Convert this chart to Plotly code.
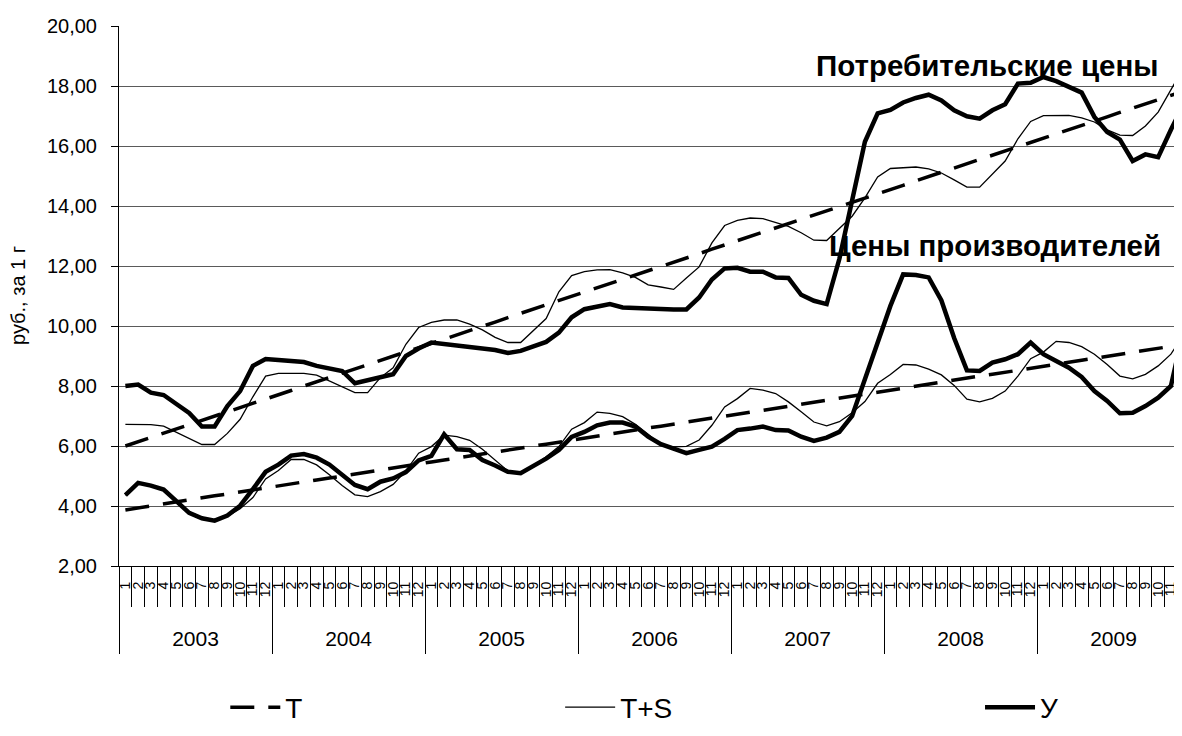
import plotly.graph_objects as go

# monthly series, 2003-2009
years = ["2003", "2004", "2005", "2006", "2007", "2008", "2009"]
month_names = ["1", "2", "3", "4", "5", "6", "7", "8", "9", "10", "11", "12"]

# consumer prices
cons_T = [6.00, 6.14, 6.29, 6.43, 6.57, 6.71, 6.86, 7.00, 7.14, 7.28, 7.43, 7.57,
          7.71, 7.85, 8.00, 8.14, 8.28, 8.42, 8.57, 8.71, 8.85, 8.99, 9.14, 9.28,
          9.42, 9.56, 9.71, 9.85, 9.99, 10.13, 10.28, 10.42, 10.56, 10.70, 10.85, 10.99,
          11.13, 11.27, 11.42, 11.56, 11.70, 11.84, 11.99, 12.13, 12.27, 12.41, 12.56, 12.70,
          12.84, 12.98, 13.13, 13.27, 13.41, 13.55, 13.70, 13.84, 13.98, 14.12, 14.27, 14.41,
          14.55, 14.69, 14.84, 14.98, 15.12, 15.26, 15.41, 15.55, 15.69, 15.83, 15.98, 16.12,
          16.26, 16.40, 16.55, 16.69, 16.83, 16.97, 17.12, 17.26, 17.40, 17.54, 17.69, 17.83]
cons_TS = [6.72, 6.72, 6.71, 6.66, 6.46, 6.24, 6.05, 6.05, 6.42, 6.89, 7.64, 8.33,
           8.42, 8.42, 8.42, 8.36, 8.17, 7.98, 7.78, 7.78, 8.28, 8.61, 9.39, 9.95,
           10.12, 10.20, 10.20, 10.06, 9.87, 9.62, 9.45, 9.45, 9.84, 10.25, 11.14, 11.68,
           11.81, 11.87, 11.88, 11.77, 11.62, 11.37, 11.30, 11.22, 11.60, 11.97, 12.77, 13.35,
           13.52, 13.60, 13.58, 13.46, 13.32, 13.11, 12.86, 12.85, 13.27, 13.66, 14.27, 14.97,
           15.25, 15.27, 15.30, 15.24, 15.10, 14.87, 14.63, 14.63, 15.05, 15.50, 16.24, 16.82,
           17.01, 17.02, 17.02, 16.94, 16.80, 16.54, 16.36, 16.35, 16.67, 17.13, 17.86, 18.62]
cons_Y = [8.00, 8.05, 7.78, 7.70, 7.40, 7.10, 6.65, 6.65, 7.33, 7.83, 8.67, 8.90,
          8.87, 8.84, 8.80, 8.67, 8.58, 8.50, 8.09, 8.20, 8.28, 8.39, 9.00, 9.25,
          9.45, 9.40, 9.35, 9.30, 9.25, 9.20, 9.10, 9.17, 9.32, 9.47, 9.78, 10.29,
          10.56, 10.64, 10.73, 10.62, 10.60, 10.56, 10.55, 10.55, 10.55, 10.95, 11.55, 11.92,
          11.94, 11.81, 11.81, 11.62, 11.60, 11.04, 10.84, 10.73, 12.24, 14.24, 16.14, 17.09,
          17.20, 17.45, 17.60, 17.71, 17.52, 17.19, 16.99, 16.91, 17.19, 17.39, 18.08, 18.11,
          18.30, 18.16, 17.97, 17.78, 16.97, 16.47, 16.21, 15.50, 15.72, 15.63, 16.54, 17.40]

# producer prices
prod_T = [3.87, 3.94, 4.00, 4.07, 4.14, 4.20, 4.27, 4.34, 4.40, 4.47, 4.54, 4.60,
          4.67, 4.73, 4.80, 4.87, 4.93, 5.00, 5.07, 5.13, 5.20, 5.27, 5.33, 5.40,
          5.47, 5.53, 5.60, 5.67, 5.73, 5.80, 5.87, 5.93, 6.00, 6.06, 6.13, 6.20,
          6.26, 6.33, 6.40, 6.46, 6.53, 6.60, 6.66, 6.73, 6.80, 6.86, 6.93, 7.00,
          7.06, 7.13, 7.19, 7.26, 7.33, 7.39, 7.46, 7.53, 7.59, 7.66, 7.73, 7.79,
          7.86, 7.93, 7.99, 8.06, 8.13, 8.19, 8.26, 8.33, 8.39, 8.46, 8.52, 8.59,
          8.66, 8.72, 8.79, 8.86, 8.92, 8.99, 9.06, 9.12, 9.19, 9.26, 9.32, 9.39]
prod_TS = [4.36, 4.79, 4.68, 4.51, 4.14, 3.75, 3.56, 3.50, 3.65, 3.91, 4.28, 4.90,
           5.18, 5.55, 5.55, 5.37, 5.04, 4.68, 4.37, 4.31, 4.48, 4.72, 5.17, 5.76,
           5.98, 6.36, 6.31, 6.19, 5.89, 5.53, 5.17, 5.09, 5.35, 5.64, 5.98, 6.56,
           6.78, 7.13, 7.09, 6.98, 6.72, 6.39, 6.04, 5.97, 5.99, 6.20, 6.69, 7.30,
           7.58, 7.92, 7.86, 7.75, 7.47, 7.14, 6.80, 6.67, 6.81, 7.11, 7.48, 8.09,
           8.38, 8.72, 8.70, 8.56, 8.37, 8.02, 7.56, 7.47, 7.59, 7.83, 8.33, 8.91,
           9.13, 9.49, 9.45, 9.31, 9.06, 8.72, 8.33, 8.24, 8.39, 8.67, 9.06, 9.72]
prod_Y = [4.36, 4.77, 4.68, 4.55, 4.16, 3.77, 3.59, 3.51, 3.68, 4.01, 4.56, 5.14,
          5.38, 5.68, 5.73, 5.61, 5.38, 5.06, 4.70, 4.56, 4.81, 4.92, 5.13, 5.52,
          5.67, 6.39, 5.89, 5.87, 5.53, 5.35, 5.14, 5.09, 5.33, 5.58, 5.87, 6.30,
          6.47, 6.69, 6.78, 6.78, 6.65, 6.31, 6.06, 5.89, 5.76, 5.87, 5.98, 6.24,
          6.53, 6.58, 6.65, 6.53, 6.52, 6.31, 6.17, 6.28, 6.47, 7.00, 8.25, 9.45,
          10.67, 11.72, 11.70, 11.62, 10.85, 9.60, 8.52, 8.50, 8.78, 8.89, 9.06, 9.45,
          9.06, 8.83, 8.61, 8.30, 7.83, 7.50, 7.09, 7.11, 7.33, 7.61, 8.00, 9.90]

FONT = "Liberation Sans, Arial, sans-serif"
n = len(cons_Y)
x = list(range(n))
month_bounds = [i - 0.5 for i in range(n + 1)]
year_bounds = [12 * k - 0.5 for k in range(len(years) + 1)]
year_centers = [12 * k + 5.5 for k in range(len(years))]
month_ticks = month_names * len(years)
# the last months run past the right edge of the picture
xrange_ = [-0.5, 82.87]

fig = go.Figure()

dash_style = dict(color="black", width=3.5, dash="24px,14px")
thin_style = dict(color="black", width=1.3)
thick_style = dict(color="black", width=4.5)

fig.add_trace(go.Scatter(x=x, y=cons_T, mode="lines", name="T", line=dash_style,
                         legend="legend"))
fig.add_trace(go.Scatter(x=x, y=prod_T, mode="lines", name="T", line=dash_style,
                         showlegend=False))
fig.add_trace(go.Scatter(x=x, y=cons_TS, mode="lines", name="T+S", line=thin_style,
                         legend="legend2"))
fig.add_trace(go.Scatter(x=x, y=prod_TS, mode="lines", name="T+S", line=thin_style,
                         legend="legend2", showlegend=False))
fig.add_trace(go.Scatter(x=x, y=cons_Y, mode="lines", name="У", line=thick_style,
                         legend="legend3"))
fig.add_trace(go.Scatter(x=x, y=prod_Y, mode="lines", name="У", line=thick_style,
                         legend="legend3", showlegend=False))

# empty helper traces so the month / year label axes get drawn
for ax in ("x2", "x3"):
    fig.add_trace(go.Scatter(x=[x[0], x[-1]], y=[None, None], xaxis=ax, yaxis="y",
                             mode="lines", showlegend=False, hoverinfo="skip"))

fig.add_annotation(x=67.6, y=18.7, xref="x", yref="y", showarrow=False,
                   text="<b>Потребительские цены</b>",
                   font=dict(size=29.5, family=FONT, color="black"))
fig.add_annotation(x=68.2, y=12.68, xref="x", yref="y", showarrow=False,
                   text="<b>Цены производителей</b>",
                   font=dict(size=29.5, family=FONT, color="black"))
fig.add_annotation(x=-0.095, y=0.5, xref="paper", yref="paper", showarrow=False,
                   xanchor="center", yanchor="middle",
                   text="руб., за 1 г", textangle=-90,
                   font=dict(size=20, family=FONT, color="black"))

legend_common = dict(orientation="h", yanchor="middle", y=-0.262, xanchor="left",
                     itemwidth=50,
                     font=dict(size=28, family=FONT, color="black"),
                     bgcolor="rgba(0,0,0,0)")

fig.update_layout(
    width=1174, height=728,
    margin=dict(l=111, r=0, t=18, b=170),
    paper_bgcolor="white", plot_bgcolor="white",
    separators=", ",
    font=dict(family=FONT, color="black"),
    legend=dict(x=0.1, **legend_common),
    legend2=dict(x=0.415, **legend_common),
    legend3=dict(x=0.81, **legend_common),
    xaxis=dict(range=xrange_, tickmode="array", tickvals=year_bounds,
               showticklabels=False, ticks="outside", ticklen=87,
               tickcolor="black", tickwidth=1, showline=True, linecolor="black",
               linewidth=1, showgrid=False, zeroline=False,
               minor=dict(tickmode="array", tickvals=month_bounds, ticks="outside",
                          ticklen=40, tickcolor="black", tickwidth=1, showgrid=False)),
    xaxis2=dict(overlaying="x", anchor="y", side="bottom", range=xrange_,
                tickmode="array", tickvals=x, ticktext=month_ticks, tickangle=-90,
                ticks="", showline=False, showgrid=False, zeroline=False,
                ticklabelstandoff=12, tickfont=dict(size=14, family=FONT)),
    xaxis3=dict(overlaying="x", anchor="y", side="bottom", range=xrange_,
                tickmode="array", tickvals=year_centers, ticktext=years,
                ticks="", showline=False, showgrid=False, zeroline=False,
                ticklabelstandoff=58, tickfont=dict(size=21, family=FONT)),
    yaxis=dict(range=[2, 20], tickmode="linear", tick0=2, dtick=2,
               tickformat=".2f", showgrid=True, gridcolor="#5a5a5a", gridwidth=1,
               showline=True, linecolor="black", linewidth=1, zeroline=False,
               ticks="outside", ticklen=7, tickcolor="black",
               ticklabelstandoff=10, tickfont=dict(size=20, family=FONT)),
)

fig.write_html("out.html")
